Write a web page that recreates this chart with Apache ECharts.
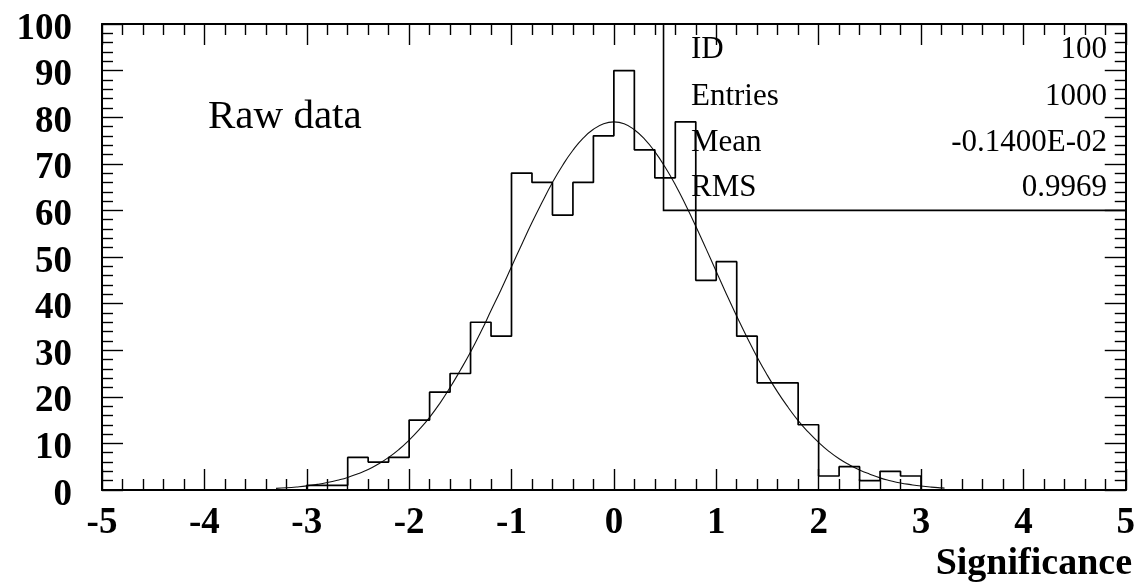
<!DOCTYPE html>
<html>
<head>
<meta charset="utf-8">
<script src="https://cdn.jsdelivr.net/npm/echarts@6/dist/echarts.min.js"></script>
<style>
html,body{margin:0;padding:0;background:#fff;}
#chart{width:1138px;height:585px;}
</style>
</head>
<body>
<div id="chart"></div>
<script>
// ---- data ----
var binStart = -5;
var binWidth = 0.2;
var counts = [
  0,0,0,0,0, 0,0,0,0,0,
  1,1,7,6,7, 15,21,25,36,33,
  68,66,59,66,76, 90,73,67,79,45,
  49,33,23,23,14, 3,5,2,4,3,
  0,0,0,0,0, 0,0,0,0,0
];
var fitX = [-3.3,-3.2,-3.1,-3.0,-2.9,-2.8,-2.7,-2.6,-2.5,-2.4,-2.3,-2.2,-2.1,-2.0,-1.9,-1.8,-1.7,-1.6,-1.5,-1.4,-1.3,-1.2,-1.1,-1.0,-0.9,-0.8,-0.7,-0.6,-0.5,-0.4,-0.3,-0.2,-0.1,0.0,0.1,0.2,0.3,0.4,0.5,0.6,0.7,0.8,0.9,1.0,1.1,1.2,1.3,1.4,1.5,1.6,1.7,1.8,1.9,2.0,2.1,2.2,2.3,2.4,2.5,2.6,2.7,2.8,2.9,3.0,3.1,3.2,3.23];
var fitY = [0.34,0.47,0.65,0.88,1.2,1.6,2.1,2.7,3.5,4.4,5.6,7.0,8.7,10.7,13.0,15.6,18.6,22.0,25.7,29.6,33.9,38.5,43.1,47.9,52.7,57.4,61.8,66.0,69.7,72.9,75.5,77.4,78.6,79.0,78.6,77.3,75.3,72.6,69.3,65.5,61.2,56.6,51.8,46.9,42.0,37.3,32.8,28.5,24.6,21.0,17.8,14.9,12.4,10.2,8.3,6.7,5.4,4.3,3.4,2.6,2.0,1.5,1.15,0.85,0.62,0.45,0.41];
var xTicks = [-5,-4,-3,-2,-1,0,1,2,3,4,5];
var yTicks = [0,10,20,30,40,50,60,70,80,90,100];
var statsLabels = ['ID','Entries','Mean','RMS'];
var statsValues = ['100','1000','-0.1400E-02','0.9969'];
var histTitle = 'Raw data';
var xTitle = 'Significance';
var statsCorner = [0.485, 60];

// ---- build ----
var histPts = [];
for (var i = 0; i < counts.length; i++) {
  var lo = +(binStart + i * binWidth).toFixed(4);
  var hi = +(binStart + (i + 1) * binWidth).toFixed(4);
  histPts.push([lo, counts[i]]);
  histPts.push([hi, counts[i]]);
}
var fitPts = fitX.map(function (x, i) { return [x, fitY[i]]; });

var black = '#000';
function axisCommon(extra) {
  var o = {
    type: 'value',
    axisLine: { show: true, onZero: false, lineStyle: { color: black, width: 2 } },
    axisTick: { show: true, inside: true, length: 21, lineStyle: { color: black, width: 1.4 } },
    minorTick: { show: true, splitNumber: 5, length: 11, lineStyle: { color: black, width: 1.4 } },
    splitLine: { show: false },
    minorSplitLine: { show: false }
  };
  for (var k in extra) o[k] = extra[k];
  return o;
}
var labelFont = { fontFamily: 'Liberation Serif', fontWeight: 'bold', fontSize: 37, color: black };

var chart = echarts.init(document.getElementById('chart'), null, { renderer: 'canvas' });
var option = {
  animation: false,
  backgroundColor: '#fff',
  grid: { left: 102, right: 6, top: 24, bottom: 95, containLabel: false },
  xAxis: [
    axisCommon({ min: xTicks[0], max: xTicks[xTicks.length - 1], interval: 1, position: 'bottom',
      axisLabel: Object.assign({ margin: 15, showMinLabel: true, showMaxLabel: true }, labelFont) }),
    axisCommon({ min: xTicks[0], max: xTicks[xTicks.length - 1], interval: 1, position: 'top',
      axisLabel: { show: false } })
  ],
  yAxis: [
    axisCommon({ min: yTicks[0], max: yTicks[yTicks.length - 1], interval: 10, position: 'left',
      axisLabel: {
        margin: 30,
        formatter: '{v|{value}}',
        rich: { v: { fontFamily: 'Liberation Serif', fontWeight: 'bold', fontSize: 37, color: black, padding: [10, 0, 0, 0] } }
      } }),
    axisCommon({ min: yTicks[0], max: yTicks[yTicks.length - 1], interval: 10, position: 'right',
      axisLabel: { show: false } })
  ],
  series: [
    {
      type: 'line', name: 'fit', data: fitPts, smooth: true, symbol: 'none',
      lineStyle: { color: '#111', width: 1.1 }, z: 2
    },
    {
      type: 'line', name: 'hist', data: histPts, symbol: 'none',
      lineStyle: { color: black, width: 1.7 }, z: 3
    }
  ]
};
chart.setOption(option);

var corner = chart.convertToPixel({ xAxisIndex: 0, yAxisIndex: 0 }, statsCorner);
var topRight = chart.convertToPixel({ xAxisIndex: 0, yAxisIndex: 0 }, [xTicks[xTicks.length - 1], yTicks[yTicks.length - 1]]);
var graphics = [
  { type: 'polyline', z: 10, shape: { points: [[corner[0], topRight[1]], [corner[0], corner[1]], [topRight[0], corner[1]]] },
    style: { stroke: black, lineWidth: 1.6, fill: null } },
  { type: 'text', z: 10, left: 208, top: 120 - 23, style: { text: histTitle, font: 'normal 41px "Liberation Serif"', fill: black } },
  { type: 'text', z: 10, style: { text: xTitle, x: 1132, y: 564, align: 'right', verticalAlign: 'middle', font: 'bold 38px "Liberation Serif"', fill: black } }
];
var rowY = [50, 96.7, 143, 188];
statsLabels.forEach(function (t, i) {
  graphics.push({ type: 'text', z: 10, style: { text: t, x: 691, y: rowY[i], align: 'left', verticalAlign: 'middle', font: 'normal 31px "Liberation Serif"', fill: black } });
  graphics.push({ type: 'text', z: 10, style: { text: statsValues[i], x: 1107, y: rowY[i], align: 'right', verticalAlign: 'middle', font: 'normal 31px "Liberation Serif"', fill: black } });
});
chart.setOption({ graphic: graphics });
</script>
</body>
</html>
